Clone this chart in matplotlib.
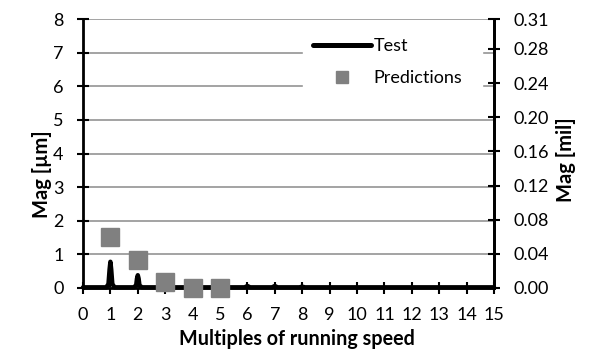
import matplotlib
matplotlib.use("Agg")
import matplotlib.pyplot as plt
from matplotlib.lines import Line2D

plt.rcParams['font.family'] = ['Lato', 'DejaVu Sans']

# Measured spectrum (multiples of running speed vs amplitude in µm)
test_x = [0.0, 0.85, 0.93, 0.97, 1.0, 1.03, 1.07, 1.15, 1.85, 1.94, 1.97, 2.0, 2.03, 2.06,
          2.15, 5.9, 6.0, 6.1, 6.9, 7.0, 7.1, 7.9, 8.0, 8.1, 15.0]
test_y = [0.02, 0.02, 0.12, 0.55, 0.78, 0.55, 0.12, 0.02, 0.02, 0.08, 0.28, 0.38, 0.28, 0.08,
          0.02, 0.02, 0.06, 0.02, 0.02, 0.06, 0.02, 0.02, 0.04, 0.02, 0.02]

# Predicted harmonic amplitudes (µm)
pred_x = [1, 2, 3, 4, 5]
pred_y = [1.52, 0.83, 0.18, 0.0, 0.0]

x_ticks = list(range(0, 16))
y_ticks = list(range(0, 9))
mil_ticks = [0.00, 0.04, 0.08, 0.12, 0.16, 0.20, 0.24, 0.28, 8 / 25.4]
mil_labels = ["0.00", "0.04", "0.08", "0.12", "0.16", "0.20", "0.24", "0.28", "0.31"]

W, H = 593, 349
fig = plt.figure(figsize=(W / 100, H / 100), dpi=100)
ax = fig.add_axes([83 / W, 1 - 288 / H, (494 - 83) / W, (288 - 19) / H])

ax.set_xlim(0, 15)
ax.set_ylim(0, 8)
ax.set_xticks(x_ticks)
ax.set_yticks(y_ticks)
ax.yaxis.grid(True, color='#8a8a8a', linewidth=1.1)
ax.set_axisbelow(True)

ax.plot(test_x, test_y, color='black', linewidth=3.2, solid_capstyle='round',
        solid_joinstyle='round', zorder=3, clip_on=False)
ax.plot(pred_x, pred_y, linestyle='none', marker='s', markersize=12.5,
        color='#808080', markeredgecolor='#808080', zorder=4, clip_on=False)

ax.spines['top'].set_visible(False)
for s in ['left', 'bottom', 'right']:
    ax.spines[s].set_linewidth(2.0)
    ax.spines[s].set_color('black')

ax.tick_params(axis='both', direction='inout', length=8, width=1.5, labelsize=13,
               colors='black', pad=10)

ax.set_xlabel('Multiples of running speed', fontsize=14.2, fontweight='bold')
ax.set_ylabel('Mag [µm]', fontsize=14.5, fontweight='bold')
ax.xaxis.set_label_coords(0.5, 1 - 339 / H, transform=fig.transFigure)
ax.yaxis.set_label_coords(42 / W, 0.5, transform=fig.transFigure)
ax.xaxis.label.set_va('center')
ax.yaxis.label.set_va('center')

ax2 = ax.twinx()
ax2.set_ylim(0, 8 / 25.4)
ax2.set_yticks(mil_ticks)
ax2.set_yticklabels(mil_labels)
ax2.tick_params(axis='y', direction='inout', length=8, width=1.5, labelsize=13, pad=10)
for s in ['top', 'left', 'bottom']:
    ax2.spines[s].set_visible(False)
ax2.spines['right'].set_linewidth(2.0)
ax2.set_ylabel('Mag [mil]', fontsize=14.5, fontweight='bold')
ax2.yaxis.set_label_coords(566 / W, 1 - 160 / H, transform=fig.transFigure)
ax2.yaxis.label.set_va('center')

handles = [Line2D([0], [0], color='black', linewidth=3.6, solid_capstyle='round'),
           Line2D([0], [0], linestyle='none', marker='s', markersize=9, color='#808080')]
leg = ax.legend(handles, ['Test', 'Predictions'], loc='upper left',
                bbox_to_anchor=(303 / W, 1 - 28 / H, 179 / W, 0),
                bbox_transform=fig.transFigure, mode='expand',
                frameon=True, fontsize=13, handlelength=3.2, handletextpad=0.15,
                labelspacing=0.9, borderpad=0.55, borderaxespad=0, fancybox=False)
leg.get_frame().set_edgecolor('white')
leg.get_frame().set_facecolor('white')
leg.get_frame().set_alpha(1.0)
leg.set_zorder(10)

fig.savefig('out.png', dpi=100)
